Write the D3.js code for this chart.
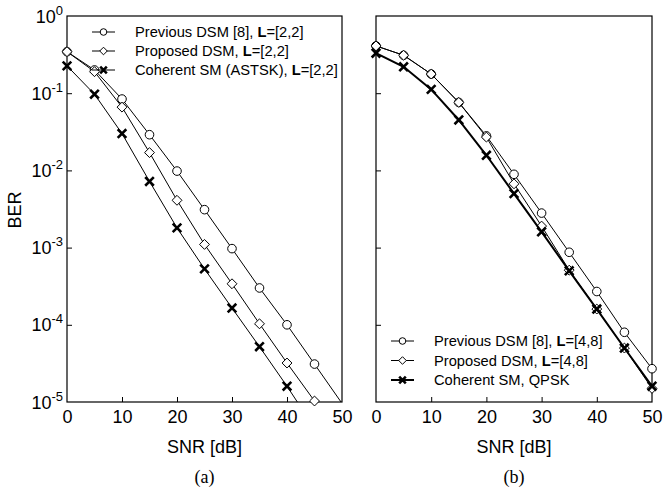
<!DOCTYPE html>
<html>
<head>
<meta charset="utf-8">
<script src="https://cdn.jsdelivr.net/npm/d3@7"></script>
<style>
  body { margin: 0; background: #fff; }
  svg { display: block; }
</style>
</head>
<body>
<svg id="chart" width="663" height="490"></svg>
<script>
// SNR points (dB)
const snr = [0, 5, 10, 15, 20, 25, 30, 35, 40, 45, 50];

// (a) L=[2,2]
const prevA = [0.345, 0.2, 0.084, 0.029, 0.0098, 0.0031, 0.00097, 0.0003, 1.0e-4, 3.1e-5, 9.6e-6];
const propA = [0.345, 0.19, 0.066, 0.017, 0.0041, 0.0011, 0.00034, 1.03e-4, 3.2e-5, 1.03e-5, 3.2e-6];
const cohA = [0.226, 0.097, 0.03, 0.0072, 0.0018, 0.00053, 1.65e-4, 5.2e-5, 1.6e-5, 4.6e-6, 1.3e-6];

// (b) L=[4,8]
const prevB = [0.41, 0.31, 0.177, 0.076, 0.028, 0.0089, 0.0028, 0.00087, 0.00027, 8e-5, 2.7e-5];
const propB = [0.41, 0.31, 0.177, 0.076, 0.027, 0.0067, 0.0019, 0.00051, 0.00016, 5e-5, 1.5e-5];
const cohB = [0.33, 0.22, 0.112, 0.045, 0.0157, 0.005, 0.0016, 0.0005, 0.00016, 5e-5, 1.6e-5];

const legendA = ["Previous DSM [8], ", "Proposed DSM, ", "Coherent SM (ASTSK), "];
const legendB = ["Previous DSM [8], ", "Proposed DSM, ", "Coherent SM, QPSK"];
const xTicks = [0, 10, 20, 30, 40, 50];
const yTicks = [1, 1e-1, 1e-2, 1e-3, 1e-4, 1e-5];
const yExp = ["0", "-1", "-2", "-3", "-4", "-5"];

const svg = d3.select("#chart");
const sans = "'Liberation Sans', Arial, sans-serif";

// 마커 그리기
function marker(g, type, x, y, s) {
    if (type === "circle") {
        g.append("circle").attr("cx", x).attr("cy", y).attr("r", s)
            .attr("fill", "#fff").attr("stroke", "#000").attr("stroke-width", 1);
    } else if (type === "diamond") {
        const d = s * 1.15;
        g.append("path")
            .attr("d", `M${x},${y - d}L${x + d},${y}L${x},${y + d}L${x - d},${y}Z`)
            .attr("fill", "#fff").attr("stroke", "#000").attr("stroke-width", 1);
    } else {
        const d = s;
        g.append("path")
            .attr("d", `M${x - d},${y - d}L${x + d},${y + d}M${x - d},${y + d}L${x + d},${y - d}`)
            .attr("stroke", "#000").attr("stroke-width", 2.6).attr("fill", "none");
    }
}

function panel(id, left, right, series, legend, legendPos, showYLabels, label) {
    const top = 16, bottom = 402;
    const x = d3.scaleLinear().domain([0, 50]).range([left, right]);
    const y = d3.scaleLog().domain([1e-5, 1]).range([bottom, top]);
    const g = svg.append("g");

    g.append("clipPath").attr("id", "clip" + id)
        .append("rect").attr("x", left).attr("y", top)
        .attr("width", right - left).attr("height", bottom - top);

    // 축
    const xAxis = g.append("g").attr("transform", `translate(0,${bottom})`)
        .call(d3.axisBottom(x).tickValues(xTicks).tickSizeInner(-5).tickSizeOuter(0).tickPadding(8));
    xAxis.select(".domain").remove();
    xAxis.selectAll(".tick line").filter(d => d === 0 || d === 50).remove();
    xAxis.selectAll("text").attr("font-family", sans).attr("font-size", 18).attr("fill", "#000");

    const yAxis = g.append("g").attr("transform", `translate(${left},0)`)
        .call(d3.axisLeft(y).tickValues(yTicks).tickSizeInner(-5).tickSizeOuter(0).tickFormat(""));
    yAxis.select(".domain").remove();
    yAxis.selectAll(".tick line").filter(d => d === 1 || d === 1e-5).remove();

    if (showYLabels) {
        yTicks.forEach((t, i) => {
            const tx = g.append("text").attr("x", left - 4).attr("y", y(t) + 6.5)
                .attr("text-anchor", "end").attr("font-family", sans).attr("fill", "#000");
            tx.append("tspan").attr("font-size", 18).text("10");
            tx.append("tspan").attr("font-size", 13).attr("dy", -8).text(yExp[i]);
        });
    }

    g.append("rect").attr("x", left).attr("y", top)
        .attr("width", right - left).attr("height", bottom - top)
        .attr("fill", "none").attr("stroke", "#000").attr("stroke-width", 1.2);

    const line = d3.line().x((d, i) => x(snr[i])).y(d => y(d));
    const types = ["circle", "diamond", "cross"];
    series.forEach((vals, k) => {
        g.append("path").datum(vals)
            .attr("clip-path", `url(#clip${id})`)
            .attr("fill", "none").attr("stroke", "#000")
            .attr("stroke-width", (id === "b" && k === 2) ? 2 : 1)
            .attr("d", line);
        vals.forEach((v, i) => {
            if (v >= 1e-5) marker(g, types[k], x(snr[i]), y(v), 4.3);
        });
    });

    // 범례
    legend.forEach((txt, k) => {
        const ly = legendPos.y + k * legendPos.dy;
        g.append("line").attr("x1", legendPos.x).attr("x2", legendPos.x + 23)
            .attr("y1", ly).attr("y2", ly).attr("stroke", "#000")
            .attr("stroke-width", (id === "b" && k === 2) ? 2 : 1);
        marker(g, types[k], legendPos.x + 11.5, ly, 3.3);
        const t = g.append("text").attr("x", legendPos.x + 43).attr("y", ly + 5)
            .attr("font-family", sans).attr("font-size", 14.7).attr("fill", "#000");
        t.append("tspan").text(txt);
        if (!(id === "b" && k === 2)) {
            t.append("tspan").attr("font-weight", "bold").text("L");
            t.append("tspan").text(legendPos.l);
        }
    });

    g.append("text").attr("x", (left + right) / 2).attr("y", 453)
        .attr("text-anchor", "middle").attr("font-family", sans).attr("font-size", 18)
        .text("SNR [dB]");
    g.append("text").attr("x", (left + right) / 2).attr("y", 483)
        .attr("text-anchor", "middle").attr("font-family", "'Liberation Serif', 'Times New Roman', serif")
        .attr("font-size", 18).text(label);
}

panel("a", 67, 342, [prevA, propA, cohA], legendA, { x: 92, y: 32, dy: 19, l: "=[2,2]" }, true, "(a)");
panel("b", 376, 652, [prevB, propB, cohB], legendB, { x: 391, y: 341, dy: 19.5, l: "=[4,8]" }, false, "(b)");

svg.append("text").attr("transform", "translate(21,210) rotate(-90)")
    .attr("text-anchor", "middle").attr("font-family", sans).attr("font-size", 18).text("BER");
</script>
</body>
</html>
